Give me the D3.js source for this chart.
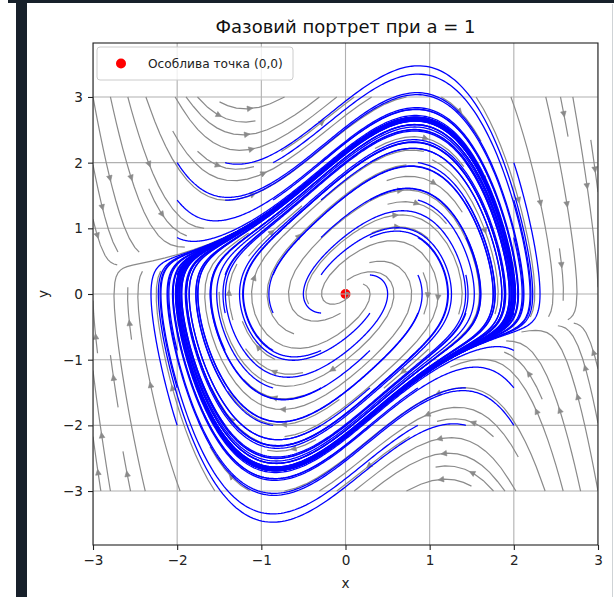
<!DOCTYPE html>
<html>
<head>
<meta charset="utf-8">
<script src="https://cdn.jsdelivr.net/npm/d3@7"></script>
<style>
  body { margin: 0; background: #fff; }
  text { font-family: "DejaVu Sans", sans-serif; }
</style>
</head>
<body>
<svg id="chart" width="614" height="597"></svg>
<script>
// parameter of the system x' = y, y' = a(1 - x^2)y - x
const A = 1;
// initial conditions of the blue trajectories (8 x 8 grid)
const START_X = [-2, -1.43, -0.86, -0.29, 0.29, 0.86, 1.43, 2];
const START_Y = [-2, -1.43, -0.86, -0.29, 0.29, 0.86, 1.43, 2];
const T_END = 20;
// streamplot field
const FIELD_EXTENT = [-3, 3];
const FIELD_N = 30;
const DENSITY = 1;
const X_TICKS = [-3, -2, -1, 0, 1, 2, 3];
const Y_TICKS = [-3, -2, -1, 0, 1, 2, 3];
const SINGULAR = [{ x: 0, y: 0 }];
const TITLE = "Фазовий портрет при a = 1";
const LEGEND_LABEL = "Особлива точка (0,0)";

const margin = { left: 93, right: 16, top: 43, bottom: 52 };
const W = 614, H = 597;
const plotW = W - margin.left - margin.right;
const plotH = H - margin.top - margin.bottom;

function field(x, y) {
  return [y, A * (1 - x * x) * y - x];
}

// blue trajectories, RK4
function solve(x0, y0) {
  const dt = 0.01;
  const steps = Math.round(T_END / dt);
  let x = x0, y = y0;
  const pts = [[x, y]];
  for (let i = 0; i < steps; i++) {
    const k1 = field(x, y);
    const k2 = field(x + dt / 2 * k1[0], y + dt / 2 * k1[1]);
    const k3 = field(x + dt / 2 * k2[0], y + dt / 2 * k2[1]);
    const k4 = field(x + dt * k3[0], y + dt * k3[1]);
    x += dt / 6 * (k1[0] + 2 * k2[0] + 2 * k3[0] + k4[0]);
    y += dt / 6 * (k1[1] + 2 * k2[1] + 2 * k3[1] + k4[1]);
    pts.push([x, y]);
  }
  return pts;
}

const trajectories = [];
for (const x0 of START_X) {
  for (const y0 of START_Y) {
    trajectories.push(solve(x0, y0));
  }
}

// streamplot, following matplotlib's algorithm
function streamplot(xs, ys, density) {
  const nx = xs.length, ny = ys.length;
  const dx = xs[1] - xs[0], dy = ys[1] - ys[0];
  const mnx = Math.floor(30 * density), mny = Math.floor(30 * density);
  const mask = d3.range(mny).map(() => new Array(mnx).fill(0));
  const xg2m = (mnx - 1) / (nx - 1), yg2m = (mny - 1) / (ny - 1);
  const minlength = 0.1, maxlength = 4.0;

  const ug = [], vg = [], speed = [];
  for (let j = 0; j < ny; j++) {
    ug.push([]); vg.push([]); speed.push([]);
    for (let i = 0; i < nx; i++) {
      const [u, v] = field(xs[i], ys[j]);
      const uu = u / dx, vv = v / dy;
      ug[j].push(uu); vg[j].push(vv);
      speed[j].push(Math.sqrt((uu / (nx - 1)) ** 2 + (vv / (ny - 1)) ** 2));
    }
  }

  function pyRound(v) {
    const f = Math.floor(v), d = v - f;
    if (d > 0.5) return f + 1;
    if (d < 0.5) return f;
    return f % 2 === 0 ? f : f + 1;
  }
  const within = (xi, yi) => xi >= 0 && xi <= nx - 1 && yi >= 0 && yi <= ny - 1;
  function interp(a, xi, yi) {
    const x = Math.floor(xi), y = Math.floor(yi);
    const xn = x === nx - 1 ? x : x + 1;
    const yn = y === ny - 1 ? y : y + 1;
    const xt = xi - x, yt = yi - y;
    const a0 = a[y][x] * (1 - xt) + a[y][xn] * xt;
    const a1 = a[yn][x] * (1 - xt) + a[yn][xn] * xt;
    return a0 * (1 - yt) + a1 * yt;
  }

  let traj = [];
  let current = null;
  function maskUpdate(xm, ym) {
    if (!current || current[0] !== xm || current[1] !== ym) {
      if (mask[ym][xm] === 0) {
        traj.push([ym, xm]);
        mask[ym][xm] = 1;
        current = [xm, ym];
      } else {
        return false;
      }
    }
    return true;
  }
  function updateGrid(xg, yg) {
    if (!within(xg, yg)) return false;
    return maskUpdate(pyRound(xg * xg2m), pyRound(yg * yg2m));
  }

  const OOB = "oob", TERM = "term";
  function f(xi, yi, sign) {
    if (!within(xi, yi)) throw OOB;
    const dsdt = interp(speed, xi, yi);
    if (dsdt === 0) throw TERM;
    const dtds = 1 / dsdt;
    return [sign * interp(ug, xi, yi) * dtds, sign * interp(vg, xi, yi) * dtds];
  }

  function eulerStep(out, sign) {
    const [xi, yi] = out[out.length - 1];
    const [cx, cy] = f(xi, yi, sign);
    let dsx, dsy;
    if (cx === 0) dsx = Infinity;
    else if (cx < 0) dsx = xi / -cx;
    else dsx = (nx - 1 - xi) / cx;
    if (cy === 0) dsy = Infinity;
    else if (cy < 0) dsy = yi / -cy;
    else dsy = (ny - 1 - yi) / cy;
    const ds = Math.min(dsx, dsy);
    out.push([xi + cx * ds, yi + cy * ds]);
    return ds;
  }

  function rk12(x0, y0, sign) {
    const maxerror = 0.003;
    const maxds = Math.min(1 / mnx, 1 / mny, 0.1);
    let ds = maxds, stotal = 0, xi = x0, yi = y0;
    const out = [];
    while (true) {
      let k1, k2;
      try {
        if (within(xi, yi)) out.push([xi, yi]);
        else throw OOB;
        k1 = f(xi, yi, sign);
        k2 = f(xi + ds * k1[0], yi + ds * k1[1], sign);
      } catch (e) {
        if (e === OOB && out.length) stotal += eulerStep(out, sign);
        break;
      }
      const dx1 = ds * k1[0], dy1 = ds * k1[1];
      const dx2 = ds * 0.5 * (k1[0] + k2[0]), dy2 = ds * 0.5 * (k1[1] + k2[1]);
      const error = Math.hypot((dx2 - dx1) / (nx - 1), (dy2 - dy1) / (ny - 1));
      if (error < maxerror) {
        xi += dx2; yi += dy2;
        if (!updateGrid(xi, yi)) break;
        if (stotal + ds > maxlength) break;
        stotal += ds;
      }
      ds = error === 0 ? maxds : Math.min(maxds, 0.85 * ds * Math.sqrt(maxerror / error));
    }
    return [stotal, out];
  }

  function integrate(x0, y0) {
    traj = [];
    if (!updateGrid(x0, y0)) return null;
    let stotal = 0;
    const [s1, back] = rk12(x0, y0, -1);
    stotal += s1;
    current = [pyRound(x0 * xg2m), pyRound(y0 * yg2m)];
    const [s2, fwd] = rk12(x0, y0, 1);
    stotal += s2;
    const pts = back.reverse().concat(fwd.slice(1));
    if (stotal > minlength) return pts;
    for (const [r, c] of traj) mask[r][c] = 0;
    return null;
  }

  // spiral of starting points from the corner inwards
  const lines = [];
  let xfirst = 0, yfirst = 1, xlast = mnx - 1, ylast = mny - 1, x = 0, y = 0, dir = "right";
  for (let i = 0; i < mnx * mny; i++) {
    if (mask[y][x] === 0) {
      const t = integrate(x / xg2m, y / yg2m);
      if (t) lines.push(t.map(([gx, gy]) => [xs[0] + gx * dx, ys[0] + gy * dy]));
    }
    if (dir === "right") { x++; if (x >= xlast) { xlast--; dir = "up"; } }
    else if (dir === "up") { y++; if (y >= ylast) { ylast--; dir = "left"; } }
    else if (dir === "left") { x--; if (x <= xfirst) { xfirst++; dir = "down"; } }
    else { y--; if (y <= yfirst) { yfirst++; dir = "right"; } }
  }
  return lines;
}

const gridXs = d3.range(FIELD_N).map(i => FIELD_EXTENT[0] + i * (FIELD_EXTENT[1] - FIELD_EXTENT[0]) / (FIELD_N - 1));
const streams = streamplot(gridXs, gridXs, DENSITY);

// y limits: data extent + 5% margin like matplotlib autoscale
const allY = trajectories.flat().map(p => p[1]).concat(FIELD_EXTENT);
const yExt = d3.extent(allY);
const yPad = (yExt[1] - yExt[0]) * 0.05;

const xScale = d3.scaleLinear().domain([-3, 3]).range([margin.left, margin.left + plotW]);
const yScale = d3.scaleLinear().domain([yExt[0] - yPad, yExt[1] + yPad]).range([margin.top + plotH, margin.top]);

const svg = d3.select("#chart");

// screenshot frame
svg.append("rect").attr("x", 0).attr("y", 0).attr("width", W).attr("height", H).attr("fill", "#fff");
svg.append("rect").attr("x", 8).attr("y", 0).attr("width", W - 8).attr("height", 3).attr("fill", "#17202a");
svg.append("rect").attr("x", 16).attr("y", 0).attr("width", 11).attr("height", H).attr("fill", "#17202a");
svg.append("rect").attr("x", 612).attr("y", 4).attr("width", 1).attr("height", H).attr("fill", "#cfd3d6");

svg.append("defs").append("clipPath").attr("id", "plot-clip")
  .append("rect").attr("x", margin.left).attr("y", margin.top).attr("width", plotW).attr("height", plotH);

const plot = svg.append("g").attr("clip-path", "url(#plot-clip)");

// singular point (drawn below the grid, as in matplotlib)
plot.selectAll(".singular").data(SINGULAR).enter().append("circle")
  .attr("cx", d => xScale(d.x)).attr("cy", d => yScale(d.y)).attr("r", 5)
  .attr("fill", "#ff0000");

// grid
plot.selectAll(".gx").data(X_TICKS).enter().append("line")
  .attr("x1", d => xScale(d)).attr("x2", d => xScale(d))
  .attr("y1", margin.top).attr("y2", margin.top + plotH)
  .attr("stroke", "#b0b0b0").attr("stroke-width", 1.1);
plot.selectAll(".gy").data(Y_TICKS).enter().append("line")
  .attr("y1", d => yScale(d)).attr("y2", d => yScale(d))
  .attr("x1", margin.left).attr("x2", margin.left + plotW)
  .attr("stroke", "#b0b0b0").attr("stroke-width", 1.1);

const line = d3.line().x(d => xScale(d[0])).y(d => yScale(d[1]));

// streamlines
plot.append("g").selectAll("path").data(streams).enter().append("path")
  .attr("d", line).attr("fill", "none")
  .attr("stroke", "#8a8a8a").attr("stroke-width", 1.2);

// arrows halfway along each streamline
const arrows = plot.append("g");
for (const s of streams) {
  const cum = [];
  let acc = 0;
  for (let i = 1; i < s.length; i++) {
    acc += Math.hypot(s[i][0] - s[i - 1][0], s[i][1] - s[i - 1][1]);
    cum.push(acc);
  }
  const n = d3.bisectLeft(cum, acc / 2);
  const tail = s[n];
  const next = s[Math.min(n + 1, s.length - 1)];
  const head = [(tail[0] + next[0]) / 2, (tail[1] + next[1]) / 2];
  const tx = xScale(tail[0]), ty = yScale(tail[1]);
  let hx = xScale(head[0]), hy = yScale(head[1]);
  let ddx = hx - tx, ddy = hy - ty;
  const len = Math.hypot(ddx, ddy) || 1;
  ddx /= len; ddy /= len;
  const L = 5.6, Wd = 2.8;
  const bx = hx - ddx * L, by = hy - ddy * L;
  arrows.append("path")
    .attr("d", `M${hx},${hy}L${bx - ddy * Wd},${by + ddx * Wd}L${bx + ddy * Wd},${by - ddx * Wd}Z`)
    .attr("fill", "#8a8a8a").attr("stroke", "#8a8a8a").attr("stroke-width", 0.6);
}

// blue trajectories
plot.append("g").selectAll("path").data(trajectories).enter().append("path")
  .attr("d", line).attr("fill", "none")
  .attr("stroke", "#0000ff").attr("stroke-width", 1.3);

// spines
svg.append("rect").attr("x", margin.left).attr("y", margin.top).attr("width", plotW).attr("height", plotH)
  .attr("fill", "none").attr("stroke", "#222").attr("stroke-width", 1.1);

// axes
const xAxis = svg.append("g").attr("transform", `translate(0,${margin.top + plotH})`)
  .call(d3.axisBottom(xScale).tickValues(X_TICKS).tickSize(5).tickPadding(5).tickFormat(d3.format("d")));
const yAxis = svg.append("g").attr("transform", `translate(${margin.left},0)`)
  .call(d3.axisLeft(yScale).tickValues(Y_TICKS).tickSize(5).tickPadding(5).tickFormat(d3.format("d")));
for (const ax of [xAxis, yAxis]) {
  ax.select(".domain").remove();
  ax.selectAll("line").attr("stroke", "#222").attr("stroke-width", 1.1);
  ax.selectAll("text").attr("font-family", "DejaVu Sans").attr("font-size", 13.6).attr("fill", "#222");
}

// labels
svg.append("text").attr("x", margin.left + plotW / 2).attr("y", 588).attr("text-anchor", "middle")
  .attr("font-size", 13.6).attr("fill", "#222").text("x");
svg.append("text").attr("transform", `translate(48,${yScale(0)}) rotate(-90)`).attr("text-anchor", "middle")
  .attr("font-size", 13.6).attr("fill", "#222").text("y");
svg.append("text").attr("x", margin.left + plotW / 2).attr("y", 33).attr("text-anchor", "middle")
  .attr("font-size", 18).attr("fill", "#111").text(TITLE);

// legend
const lg = svg.append("g").attr("transform", `translate(${margin.left + 4},${margin.top + 4})`);
lg.append("rect").attr("width", 196).attr("height", 33).attr("rx", 3)
  .attr("fill", "#fff").attr("fill-opacity", 0.8).attr("stroke", "#cccccc").attr("stroke-width", 1);
lg.append("circle").attr("cx", 24).attr("cy", 16.5).attr("r", 5).attr("fill", "#ff0000");
lg.append("text").attr("x", 51).attr("y", 21).attr("font-size", 12.2).attr("fill", "#222").text(LEGEND_LABEL);
</script>
</body>
</html>
